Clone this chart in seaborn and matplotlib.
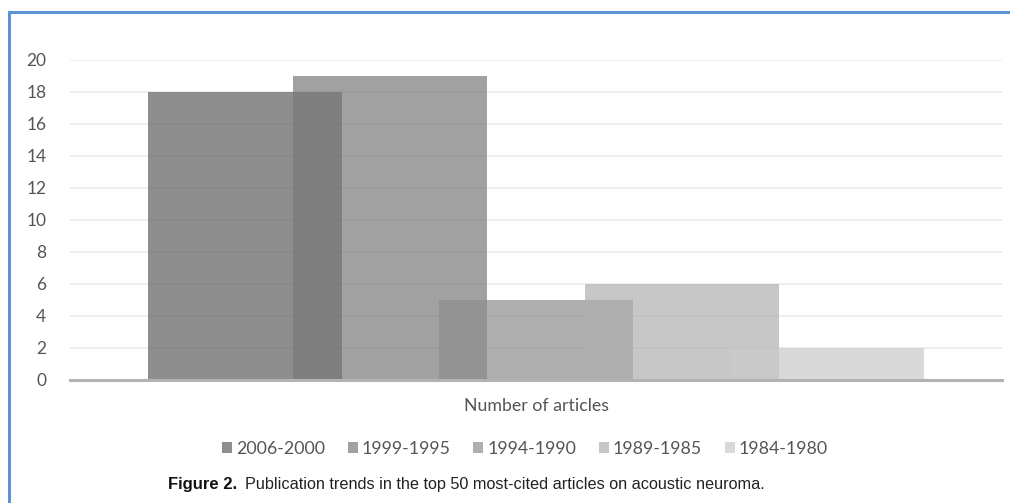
import numpy as np
import pandas as pd
import matplotlib
matplotlib.use("Agg")
import matplotlib.pyplot as plt
import seaborn as sns
from matplotlib.lines import Line2D
from matplotlib.patches import Patch

# Publication periods and number of top-cited articles in each
periods = ["2006-2000", "1999-1995", "1994-1990", "1989-1985", "1984-1980"]
counts = [18, 19, 5, 6, 2]
category_label = "Number of articles"
y_ticks = [0, 2, 4, 6, 8, 10, 12, 14, 16, 18, 20]
caption_bold = "Figure 2."
caption_text = "Publication trends in the top 50 most-cited articles on acoustic neuroma."

# Semi-transparent grey fills, so overlapping bars darken where they meet
bar_colors = ["#5f5f5f", "#797979", "#8e8e8e", "#b0b0b0", "#cacaca"]
bar_alpha = 0.7

sns.set_theme(style="white")
plt.rcParams["font.family"] = ["Lato", "DejaVu Sans"]

df = pd.DataFrame({"period": periods, "count": counts,
                   "pos": np.arange(len(periods), dtype=float)})

fig = plt.figure(figsize=(10.10, 5.03), dpi=100)
ax = fig.add_axes([70 / 1010, 1 - 380 / 503, 932 / 1010, 320 / 503])

sns.barplot(data=df, x="pos", y="count", hue="period", hue_order=periods,
            palette=bar_colors, native_scale=True, dodge=False, width=1.333,
            alpha=bar_alpha, linewidth=0, legend=False, ax=ax)

ax.set_xlim(-1.2, 5.2)
ax.set_ylim(0, 20)
ax.set_yticks(y_ticks)
ax.set_yticklabels([str(t) for t in y_ticks], fontsize=12.5, color="#555555")
ax.set_xticks([(len(periods) - 1) / 2])
ax.set_xticklabels([category_label], fontsize=12.8, color="#555555")
ax.tick_params(axis="y", length=0, pad=17)
ax.tick_params(axis="x", length=0, pad=13)
ax.set_xlabel("")
ax.set_ylabel("")

ax.yaxis.grid(True, color="#ebebeb", linewidth=1.2)
ax.set_axisbelow(True)
for side in ["top", "right", "left"]:
    ax.spines[side].set_visible(False)
ax.spines["bottom"].set_color("#b3b3b3")
ax.spines["bottom"].set_linewidth(2.2)
ax.spines["bottom"].set_zorder(5)

# Legend with small square swatches below the axis
handles = [Patch(facecolor=c, alpha=bar_alpha, edgecolor="none") for c in bar_colors]
fig.legend(handles, periods, loc="center", bbox_to_anchor=(525 / 1010, 1 - 449 / 503),
           ncol=5, frameon=False, fontsize=12.8, handlelength=0.56, handleheight=0.56,
           handletextpad=0.22, columnspacing=1.28, labelcolor="#555555")

# Caption
cap_family = ["Liberation Sans Narrow", "Liberation Sans", "DejaVu Sans"]
t1 = fig.text(168 / 1010, 1 - 485 / 503, caption_bold, fontsize=12, fontweight="bold",
              family=cap_family, va="center", ha="left", color="#111111")
fig.canvas.draw()
bb = t1.get_window_extent()
fig.text((bb.x1 + 8) / 1010, 1 - 485 / 503, caption_text, fontsize=11.7,
         family=cap_family, va="center", ha="left", color="#222222")

# Frame lines along the top and left edges
fig.add_artist(Line2D([9 / 1010, 9 / 1010], [0, 1 - 12 / 503], color="#5b93d3",
                      linewidth=2.2, transform=fig.transFigure))
fig.add_artist(Line2D([9 / 1010, 1], [1 - 12 / 503, 1 - 12 / 503], color="#5b93d3",
                      linewidth=2.2, transform=fig.transFigure))

fig.savefig("out.png", dpi=100, facecolor="white")
